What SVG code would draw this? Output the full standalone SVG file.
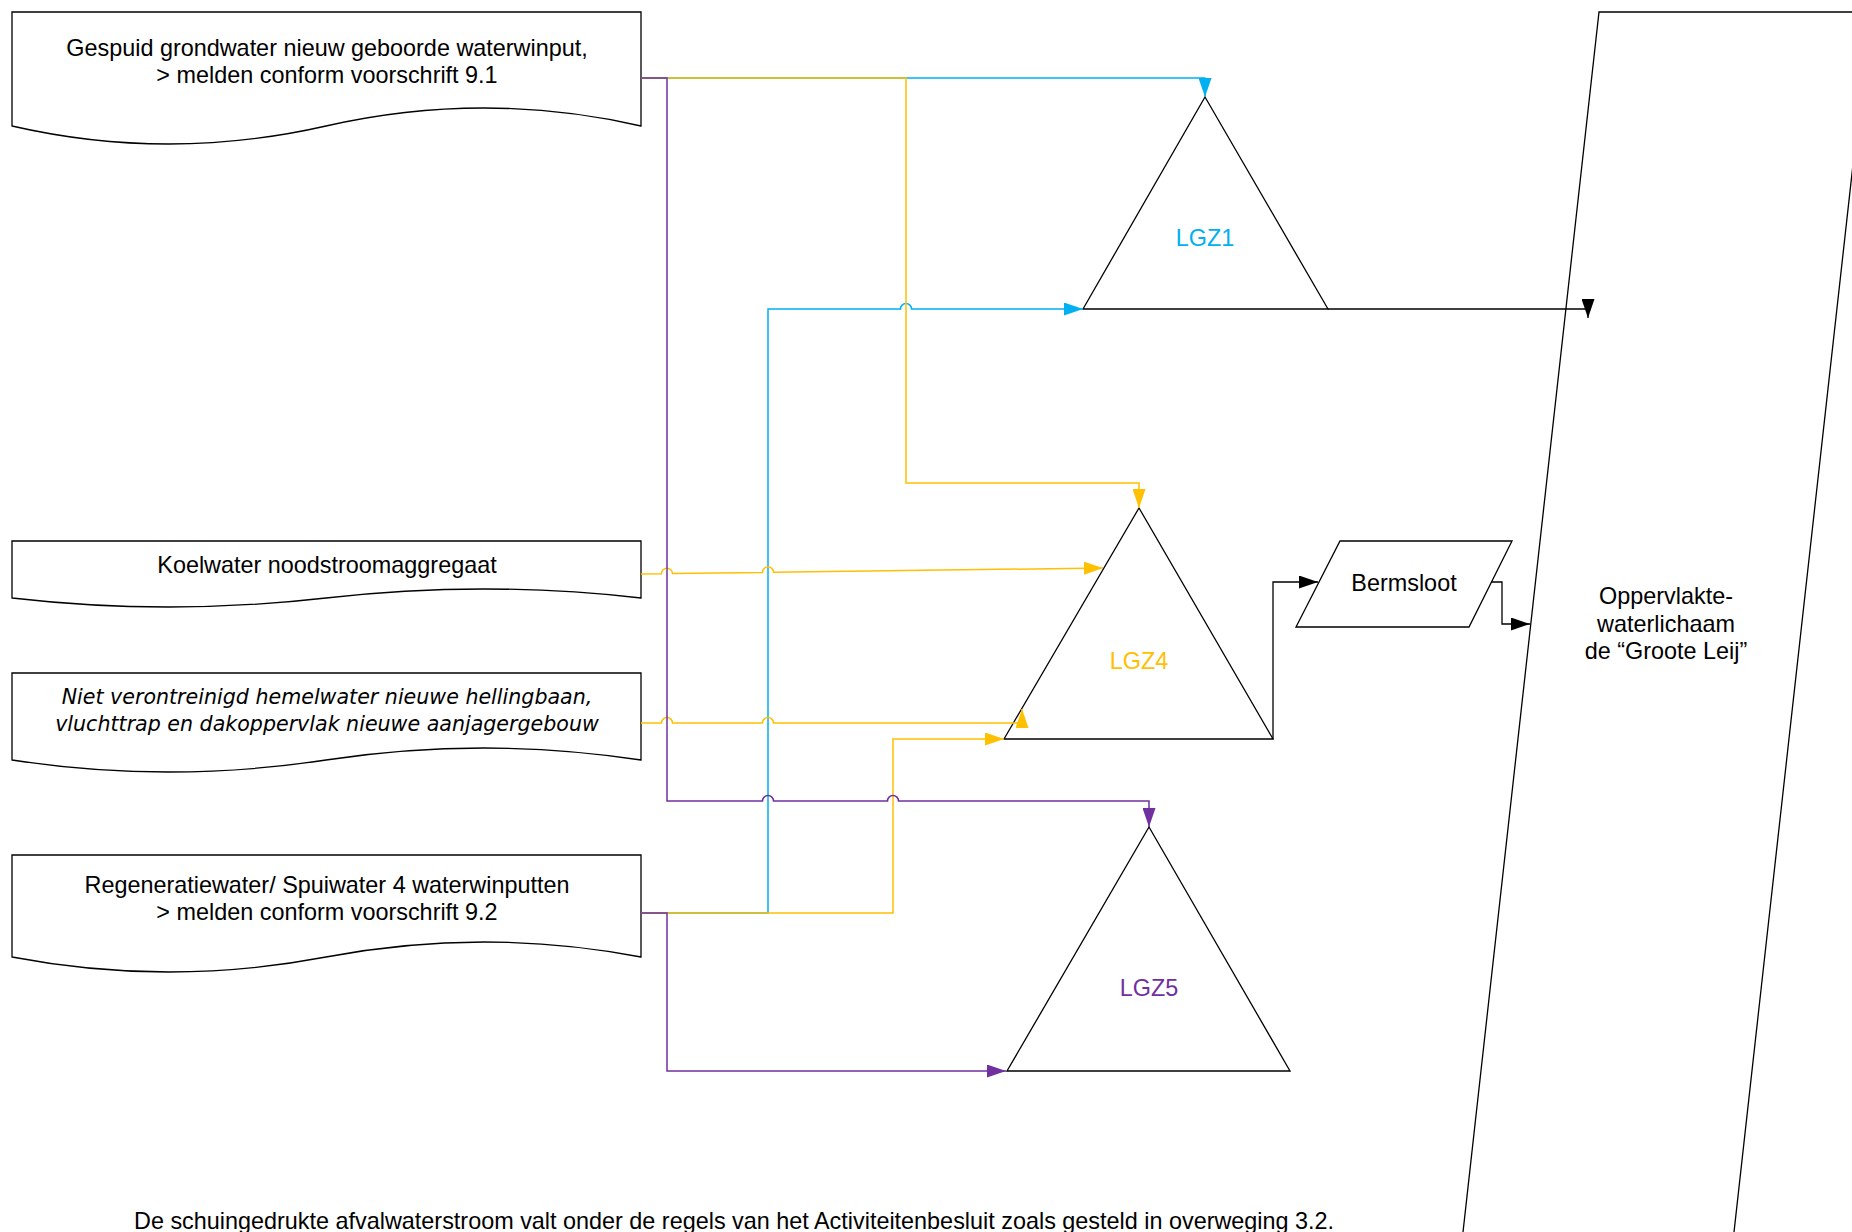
<svg xmlns="http://www.w3.org/2000/svg" width="1852" height="1232" viewBox="0 0 1852 1232">
<style>
.shape { fill: #ffffff; stroke: #000000; stroke-width: 1.3; stroke-linejoin: miter; }
.t { font-family: "Liberation Sans", Arial, sans-serif; font-size: 23.4px; fill: #000000; text-anchor: middle; }
.ti { font-family: "DejaVu Sans", Verdana, sans-serif; font-style: italic; font-size: 20.6px; fill: #000000; text-anchor: middle; }
.conn { fill: none; stroke-width: 1.5; }
.blue { stroke: #00B0F0; }
.yellow { stroke: #FFC000; }
.purple { stroke: #7030A0; }
.black { stroke: #000000; stroke-width: 1.3; }
</style>
<defs>
<marker id="ab" markerUnits="userSpaceOnUse" markerWidth="19" markerHeight="13" refX="19" refY="6.5" orient="auto"><path d="M0,0 L19,6.5 L0,13 Z" fill="#00B0F0"/></marker>
<marker id="ay" markerUnits="userSpaceOnUse" markerWidth="19" markerHeight="13" refX="19" refY="6.5" orient="auto"><path d="M0,0 L19,6.5 L0,13 Z" fill="#FFC000"/></marker>
<marker id="ap" markerUnits="userSpaceOnUse" markerWidth="19" markerHeight="13" refX="19" refY="6.5" orient="auto"><path d="M0,0 L19,6.5 L0,13 Z" fill="#7030A0"/></marker>
<marker id="ak" markerUnits="userSpaceOnUse" markerWidth="19" markerHeight="13" refX="19" refY="6.5" orient="auto"><path d="M0,0 L19,6.5 L0,13 Z" fill="#000000"/></marker>
</defs>
<rect width="1852" height="1232" fill="#ffffff"/>

<g id="doc-gespuid">
<path class="shape" d="M12,12 H641 V126 Q484,90 326,126 T12,126 Z"/>
<text class="t" x="327" y="56">Gespuid grondwater nieuw geboorde waterwinput,</text>
<text class="t" x="327" y="82.5">&gt; melden conform voorschrift 9.1</text>
</g>

<g id="doc-koelwater">
<path class="shape" d="M12,541 H641 V598 Q484,580 326,598 T12,598 Z"/>
<text class="t" x="327" y="573">Koelwater noodstroomaggregaat</text>
</g>

<g id="doc-hemelwater">
<path class="shape" d="M12,673 H641 V760 Q484,736 326,760 T12,760 Z"/>
<text class="ti" x="327" y="704">Niet verontreinigd hemelwater nieuwe hellingbaan,</text>
<text class="ti" x="327" y="731">vluchttrap en dakoppervlak nieuwe aanjagergebouw</text>
</g>

<g id="doc-regeneratie">
<path class="shape" d="M12,855 H641 V957 Q484,927 326,957 T12,957 Z"/>
<text class="t" x="327" y="893">Regeneratiewater/ Spuiwater 4 waterwinputten</text>
<text class="t" x="327" y="919.5">&gt; melden conform voorschrift 9.2</text>
</g>

<g id="lgz1">
<path class="shape" d="M1205,97 L1328,309 L1083,309 Z"/>
<text class="t" x="1205" y="246" style="fill:#00B0F0">LGZ1</text>
</g>

<g id="lgz4">
<path class="shape" d="M1139,508 L1273,739 L1004,739 Z"/>
<text class="t" x="1139" y="669" style="fill:#FFC000">LGZ4</text>
</g>

<g id="lgz5">
<path class="shape" d="M1149,827 L1290,1071 L1007,1071 Z"/>
<text class="t" x="1149" y="996" style="fill:#7030A0">LGZ5</text>
</g>

<g id="bermsloot">
<path class="shape" d="M1340,541 L1512,541 L1469,627 L1296,627 Z"/>
<text class="t" x="1404" y="591">Bermsloot</text>
</g>

<g id="oppervlaktewater">
<path class="shape" d="M1599,12 L1870,12 L1732,1250 L1461,1250 Z"/>
<text class="t" x="1666" y="604">Oppervlakte-</text>
<text class="t" x="1666" y="631.5">waterlichaam</text>
<text class="t" x="1666" y="659">de “Groote Leij”</text>
</g>

<g id="connectors">
<path class="conn blue" d="M641,78 H1205 V97" marker-end="url(#ab)"/>
<path class="conn blue" d="M641,913 H768 V309 H900.5 A5.5,5.5 0 0 1 911.5,309 H1083" marker-end="url(#ab)"/>
<path class="conn yellow" d="M641,78 H906 V483 H1139 V508" marker-end="url(#ay)"/>
<path class="conn yellow" d="M641,574 L661.5,573.73 A5.5,5.5 0 0 1 672.5,573.6 L762.5,572.42 A5.5,5.5 0 0 1 773.5,572.28 L1103,568" marker-end="url(#ay)"/>
<path class="conn yellow" d="M641,723 H661.5 A5.5,5.5 0 0 1 672.5,723 H762.5 A5.5,5.5 0 0 1 773.5,723 H1022 V709" marker-end="url(#ay)"/>
<path class="conn yellow" d="M641,913 H893 V739 H1004" marker-end="url(#ay)"/>
<path class="conn purple" d="M641,78 H667 V801 H762.5 A5.5,5.5 0 0 1 773.5,801 H887.5 A5.5,5.5 0 0 1 898.5,801 H1149 V827" marker-end="url(#ap)"/>
<path class="conn purple" d="M641,913 H667 V1071 H1006" marker-end="url(#ap)"/>
<path class="conn black" d="M1328,309 H1588 V318" marker-end="url(#ak)"/>
<path class="conn black" d="M1273,739 V582 H1318" marker-end="url(#ak)"/>
<path class="conn black" d="M1491,582 H1502 V624 H1530" marker-end="url(#ak)"/>
</g>

<text id="footnote" class="t" x="134" y="1229" style="text-anchor:start">De schuingedrukte afvalwaterstroom valt onder de regels van het Activiteitenbesluit zoals gesteld in overweging 3.2.</text>
</svg>
